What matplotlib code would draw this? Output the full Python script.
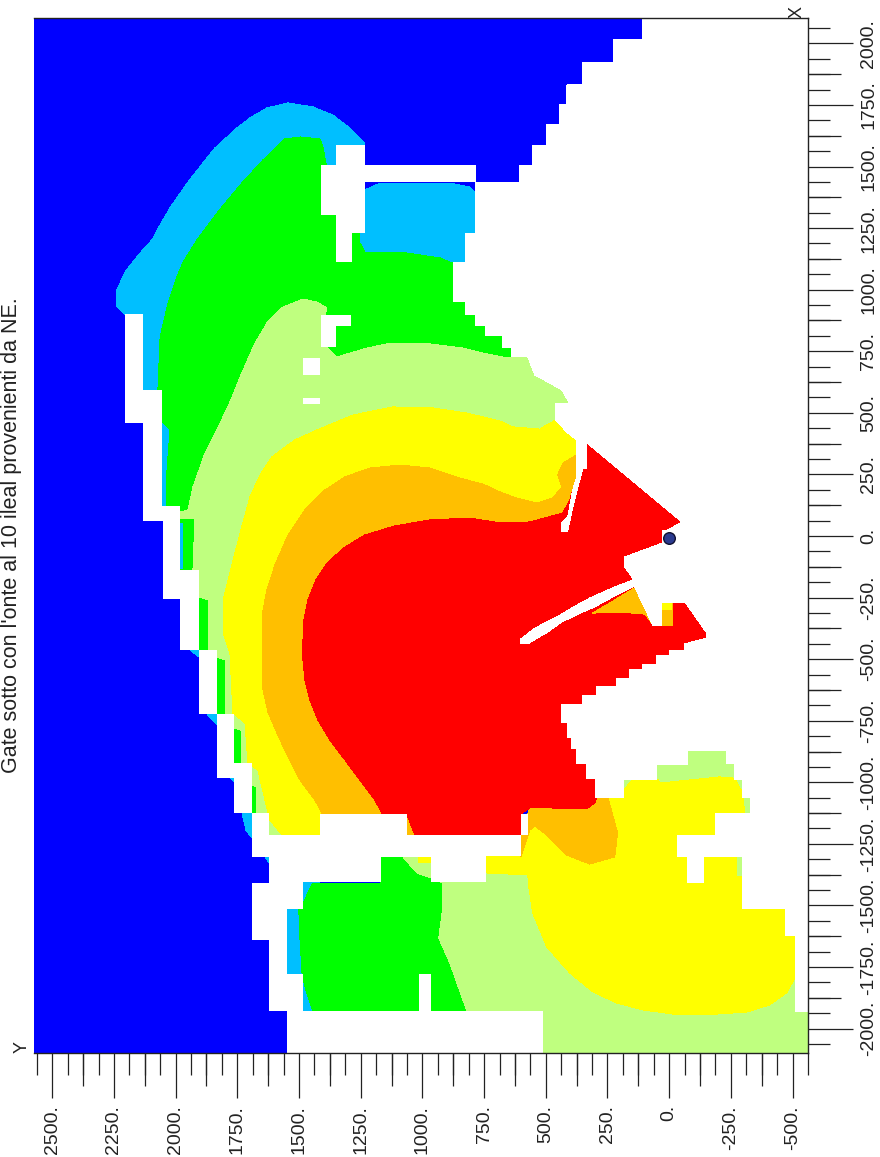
import numpy as np
import matplotlib
matplotlib.use('Agg')
import matplotlib.pyplot as plt

plt.rcParams['font.family'] = ['Liberation Sans', 'DejaVu Sans']

# colori delle classi
BLUE = '#0000FF'
SKY = '#00BFFF'
GREEN = '#00FF00'
PALE = '#BFFF7F'
YELLOW = '#FFFF00'
ORANGE = '#FFBF00'
RED = '#FF0000'

# limiti della griglia (Y, X)
y_limits = (2574, -561)
x_limits = (-2099, 2103)

y_major = [2500, 2250, 2000, 1750, 1500, 1250, 1000, 750, 500, 250, 0, -250, -500]
x_major = [-2000, -1750, -1500, -1250, -1000, -750, -500, -250, 0, 250, 500, 750, 1000, 1250, 1500, 1750, 2000]

source_y = [0]
source_x = [-8]

# contorni delle zone, coppie (Y, X)
zone_blue = [(2574, 2103), (-561, 2103), (-561, -2099), (2574, -2099)]

zone_sky = [(2205, 901), (2238, 930), (2238, 999), (2205, 1072), (2144, 1149), (2096, 1202), (2063, 1263), (2023, 1332),
            (1950, 1437), (1873, 1535), (1841, 1575), (1752, 1656), (1699, 1697), (1630, 1738), (1545, 1758),
            (1444, 1742), (1363, 1709), (1294, 1656), (1233, 1592),
            (1233, 1405), (1181, 1429), (1010, 1433), (869, 1429), (808, 1417), (784, 1393), (784, 1112),
            (1496, 552), (2023, 85), (2132, 122), (2132, 459), (2205, 459)]
zone_sky_south = [(1549, -1405), (1415, -1405), (1415, -1929), (1549, -1929)]

zone_green = [(1403, 1579), (1415, 1612), (1496, 1620), (1557, 1612), (1646, 1527), (1739, 1425), (1833, 1311),
              (1914, 1202), (1970, 1112), (1995, 1052), (2031, 946), (2063, 808), (2072, 593), (2051, 459), (2023, 430),
              (2035, 268), (2039, 122), (2023, 85), (1982, 85), (1982, -138), (1906, -138), (1906, -463),
              (1833, -463), (1833, -723), (1764, -723), (1764, -922), (1691, -922), (1691, -1125), (1638, -1125),
              (1496, -260), (565, 674), (869, 1104), (929, 1129), (1010, 1141), (1091, 1153), (1193, 1149),
              (1233, 1153), (1253, 1190), (1253, 1230), (1286, 1230), (1334, 1364), (1391, 1514)]
zone_green_south = [(1444, -1409), (1484, -1490), (1501, -1518), (1496, -1640), (1488, -1774), (1476, -1831),
                    (1444, -1929), (820, -1929), (889, -1734), (934, -1632), (917, -1506), (917, -1409),
                    (962, -1389), (1023, -1368), (1079, -1303), (1168, -1303), (1168, -1409)]

sky_bits = [
    [(1982, 53), (1970, 53), (1970, -134), (1982, -134)],
    [(1942, -463), (1906, -463), (1906, -491)],
    [(1873, -723), (1833, -723), (1833, -767)],
    [(1780, -983), (1764, -983), (1764, -999)],
    [(1731, -1125), (1691, -1125), (1691, -1226), (1715, -1194)],
    [(1638, -1303), (1622, -1303), (1622, -1328)],
]

zone_pale = [(1387, 926), (1428, 950), (1484, 962), (1565, 930), (1630, 865), (1671, 796), (1691, 755), (1739, 646), (1788, 524),
             (1881, 337), (1930, 199), (1950, 106), (1982, 97), (1982, 69), (1922, 69), (1930, -138), (1906, -138),
             (1906, -248), (1865, -260), (1865, -463), (1833, -463), (1833, -491), (1800, -503), (1800, -723),
             (1764, -723), (1764, -780), (1735, -788), (1735, -922), (1691, -922), (1691, -1011), (1671, -1019),
             (1671, -1125), (1622, -1125), (1622, -1214), (1091, -1214), (322, 471), (281, 633), (281, 727),
             (605, 727), (658, 723), (755, 743), (836, 763), (970, 780), (1144, 780), (1225, 763), (1347, 727),
             (1387, 767), (1411, 836)]
zone_pale_south = [(1079, -1303), (1023, -1368), (962, -1389), (917, -1409), (917, -1506), (934, -1632), (889, -1734),
                   (820, -1929), (820, -2099), (-561, -2099), (-561, -869), (281, -869), (605, -1275)]

zone_yellow = [(1428, 430), (1282, 491), (1120, 524), (958, 520), (820, 499), (686, 467), (634, 443), (524, 434),
               (496, 451), (460, 471), (281, 471), (281, 65), (1010, -1194), (1496, -1214), (1569, -1214),
               (1618, -1153), (1638, -1072), (1667, -950), (1707, -922), (1719, -759), (1768, -719), (1780, -475),
               (1808, -394), (1808, -260), (1739, 12), (1699, 158), (1658, 248), (1610, 321), (1517, 390)]
zone_yellow_south = [(743, -1303), (743, -1368), (573, -1376), (569, -1425), (553, -1531), (496, -1669), (403, -1774),
                     (310, -1851), (213, -1896), (107, -1924), (-14, -1941), (-192, -1941), (-314, -1933),
                     (-407, -1904), (-476, -1855), (-512, -1790), (-512, -1620), (-472, -1620), (-472, -1478),
                     (-298, -1384), (-273, -1380), (-273, -1307), (-213, -1307), (-124, -1275), (-306, -1125),
                     (-298, -1043), (-265, -983), (-205, -978), (38, -1003), (47, -987), (148, -987), (184, -1031),
                     (184, -1060), (298, -1060), (443, -1150), (573, -1170)]
yellow_bit = [(1019, -1303), (966, -1303), (966, -1328), (1019, -1328)]

zone_orange = [(1646, -300), (1650, -422), (1650, -524), (1646, -625), (1626, -715), (1590, -800), (1545, -897),
               (1496, -991), (1436, -1072), (1407, -1125),
               (1407, -1194), (1031, -1214), (281, -260), (281, 390), (375, 329), (431, 296), (452, 248), (435, 199),
               (472, 154), (537, 134), (618, 154), (686, 179), (755, 211), (848, 235), (970, 276), (1091, 288),
               (1213, 276), (1314, 240), (1395, 187), (1476, 106), (1545, 4), (1598, -118), (1630, -219)]
zone_orange_south = [(573, -1129), (565, -1104), (249, -1060), (209, -1206), (221, -1303), (322, -1332), (415, -1295),
                     (496, -1214), (545, -1177), (565, -1194), (601, -1303), (601, -1214)]

zone_red = [(1484, -422), (1480, -341), (1464, -260), (1432, -179), (1383, -106), (1314, -45), (1233, 4), (1112, 41),
            (970, 65), (808, 73), (686, 53), (565, 57), (431, 93), (403, 146),
            (334, 378), (-51, 57), (-83, -97), (-205, -382), (119, -625), (281, -1031), (302, -1084), (334, -1108),
            (484, -1104), (565, -1104), (601, -1129), (601, -1214), (1031, -1214), (1063, -1129), (1164, -1125),
            (1193, -1072), (1253, -991), (1314, -909), (1375, -828), (1424, -747), (1456, -666), (1476, -585), (1484, -503)]

orange_bits = [
    [(310, -313), (241, -272), (140, -211), (71, -353), (99, -317), (200, -309)],
    [(30, -272), (-14, -272), (-14, -365), (30, -365)],
]
yellow_tip = [(30, -272), (-10, -272), (-10, -300), (30, -300)]

# zone senza dati (bianche)
gap_west = [(2205, 901), (2132, 901), (2132, 593), (2055, 593), (2055, 122), (1982, 122), (1982, -138), (1906, -138),
            (1906, -463), (1833, -463), (1833, -723), (1764, -723), (1764, -922), (1691, -922), (1691, -1125),
            (1622, -1125), (1622, -1214), (1415, -1214), (1415, -1129), (1063, -1129), (1063, -1214), (601, -1214),
            (601, -1129), (573, -1129), (573, -1214), (601, -1214), (601, -1299), (743, -1299), (743, -1405),
            (966, -1405), (966, -1303), (1168, -1303), (1168, -1405), (1484, -1405), (1484, -1514), (1549, -1514),
            (1549, -1778), (1484, -1778), (1484, -1929), (512, -1929), (512, -2099), (1549, -2099), (1549, -1929),
            (1622, -1929), (1622, -1640), (1691, -1640), (1691, -1409), (1622, -1409), (1622, -1303), (1691, -1303),
            (1691, -1125), (1764, -1125), (1764, -983), (1833, -983), (1833, -723), (1906, -723), (1906, -463),
            (1982, -463), (1982, -256), (2051, -256), (2051, 61), (2132, 61), (2132, 459), (2205, 459)]

gap_east = [(107, 2103), (107, 2014), (225, 2014), (225, 1924), (350, 1924), (350, 1831), (415, 1831), (415, 1750),
            (443, 1750), (443, 1669), (496, 1669), (496, 1587), (553, 1587), (553, 1506), (605, 1506), (605, 1437),
            (784, 1437), (784, 1230), (824, 1230), (824, 1112), (873, 1112), (873, 950), (824, 950), (824, 901),
            (784, 901), (784, 853), (743, 853), (743, 812), (674, 812), (674, 767), (638, 767), (638, 727), (573, 727),
            (545, 654), (492, 625), (435, 593), (403, 536), (460, 536), (460, 471), (435, 443), (411, 418), (375, 390),
            (375, 240), (391, 187), (411, 77), (435, 53), (435, 20), (411, 20), (395, 97), (350, 276), (334, 276),
            (334, 378), (-51, 57), (6, 24), (26, 24), (26, -28), (180, -85), (180, -126), (148, -171), (140, -207),
            (71, -353), (67, -365), (30, -365), (30, -272), (-67, -272), (-152, -394), (-152, -414), (-63, -438),
            (-63, -463), (-2, -463), (-2, -487), (51, -487), (51, -520), (107, -520), (107, -544), (160, -544),
            (160, -577), (213, -577), (213, -613), (294, -613), (294, -646), (350, -646), (350, -686), (435, -686),
            (435, -759), (411, -759), (411, -820), (395, -820), (395, -861), (375, -861), (375, -922), (334, -922),
            (334, -983), (298, -983), (298, -1060), (184, -1060), (184, -987), (51, -987), (51, -926), (-75, -926),
            (-75, -869), (-233, -869), (-233, -922), (-265, -922), (-265, -987), (-298, -987), (-298, -1060),
            (-330, -1060), (-330, -1125), (-188, -1125), (-188, -1214), (-34, -1214), (-34, -1303), (-75, -1303),
            (-75, -1405), (-140, -1405), (-140, -1303), (-298, -1303), (-298, -1514), (-472, -1514), (-472, -1620),
            (-512, -1620), (-512, -1929), (-561, -1929), (-561, 2103)]

gap_strip = [(573, -438), (492, -390), (435, -349), (350, -309), (302, -288), (229, -248), (140, -203), (148, -179),
             (221, -207), (322, -252), (395, -292), (456, -329), (545, -374), (601, -418), (601, -438)]
gap_north = [(1351, 1587), (1233, 1587), (1233, 1506), (784, 1506), (784, 1437), (1233, 1437), (1233, 1230),
             (1286, 1230), (1286, 1112), (1351, 1112), (1351, 1303), (1411, 1303), (1411, 1506), (1351, 1506)]
gap_corner = [(1411, 897), (1290, 897), (1290, 853), (1351, 853), (1351, 767), (1411, 767)]
gap_square = [(1484, 723), (1415, 723), (1415, 654), (1484, 654)]
gap_bar = [(1484, 560), (1415, 560), (1415, 536), (1484, 536)]
gap_south_bar = [(1015, -1778), (966, -1778), (966, -1929), (1015, -1929)]


def draw(ax, poly, color):
    ys, xs = zip(*poly)
    ax.fill(ys, xs, color=color, lw=0, antialiased=False)


fig = plt.figure(figsize=(8.8, 11.57), dpi=100)
ax = fig.add_axes([34 / 880, 1 - 1053 / 1157, 774 / 880, 1035 / 1157])

# prima le zone esterne, poi quelle interne sopra
draw(ax, zone_blue, BLUE)
draw(ax, zone_sky, SKY)
draw(ax, zone_sky_south, SKY)
draw(ax, zone_green, GREEN)
draw(ax, zone_green_south, GREEN)
for bit in sky_bits:
    draw(ax, bit, SKY)
draw(ax, zone_pale, PALE)
draw(ax, zone_pale_south, PALE)
draw(ax, zone_yellow, YELLOW)
draw(ax, zone_yellow_south, YELLOW)
draw(ax, yellow_bit, YELLOW)
draw(ax, zone_orange, ORANGE)
draw(ax, zone_orange_south, ORANGE)
draw(ax, zone_red, RED)
for bit in orange_bits:
    draw(ax, bit, ORANGE)
draw(ax, yellow_tip, YELLOW)

for gap in [gap_west, gap_east, gap_strip, gap_north, gap_corner, gap_square, gap_bar, gap_south_bar]:
    draw(ax, gap, 'white')

ax.scatter(source_y, source_x, s=70, color='#2B3A8F', edgecolor='#101030', lw=1, zorder=5, clip_on=False)

ax.set_xlim(y_limits)
ax.set_ylim(x_limits)

for side in ['top', 'right', 'bottom']:
    ax.spines[side].set_linewidth(1)
    ax.spines[side].set_color('#222222')
ax.spines['left'].set_visible(False)

# tacche: lunghe ogni 250, medie ogni 125, corte ogni 62.5
y_minor = np.arange(-562.5, 2563, 62.5)
x_minor = np.arange(-2062.5, 2063, 62.5)
y_mid = np.arange(-375, 2563, 250)
x_mid = np.arange(-1875, 2063, 250)

ax.yaxis.tick_right()
ax.set_xticks(y_major)
ax.set_xticklabels([f'{v}.' for v in y_major], rotation=90, fontsize=14, color='#222222')
ax.set_yticks(x_major)
ax.set_yticklabels([f'{v}.' for v in x_major], rotation=90, va='center', fontsize=14, color='#222222')
ax.set_xticks(y_minor, minor=True)
ax.set_yticks(x_minor, minor=True)
ax.tick_params(axis='both', which='major', length=32.5, width=0.9, pad=5, color='#222222')
ax.tick_params(axis='both', which='minor', length=16, width=0.9, color='#222222')
for lab in ax.get_xticklabels():
    lab.set_ha('center')

sec_y = ax.secondary_xaxis('bottom')
sec_y.set_xticks(y_mid)
sec_y.set_xticklabels([])
sec_y.tick_params(length=24, width=0.9, color='#222222')
sec_y.spines['bottom'].set_visible(False)
sec_x = ax.secondary_yaxis('right')
sec_x.set_yticks(x_mid)
sec_x.set_yticklabels([])
sec_x.tick_params(length=24, width=0.9, color='#222222')
sec_x.spines['right'].set_visible(False)

fig.text(22 / 880, 1 - 1047 / 1157, 'Y', rotation=90, fontsize=13, ha='center', va='center', color='#222222')
fig.text(797 / 880, 1 - 12 / 1157, 'X', rotation=90, fontsize=13, ha='center', va='center', color='#222222')
fig.text(1 / 880, 1 - 535 / 1157, "Gate sotto con l'onte al 10 ileal provenienti da NE.", rotation=90,
         fontsize=15.5, ha='left', va='center', color='#222222')

fig.savefig('out.png', dpi=100)
